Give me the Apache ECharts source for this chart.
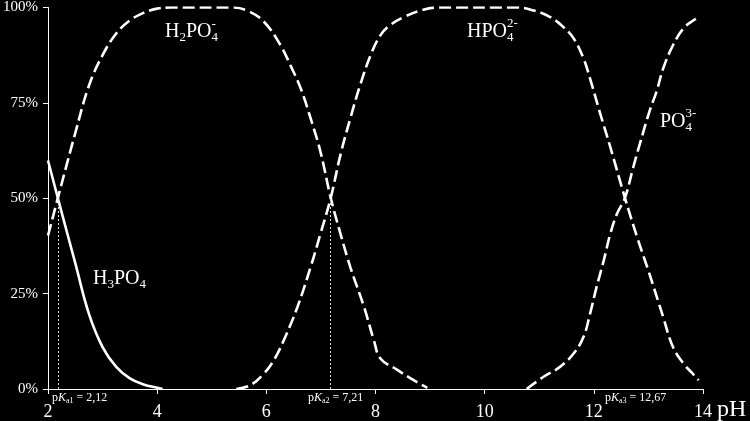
<!DOCTYPE html>
<html>
<head>
<meta charset="utf-8">
<script src="https://cdn.jsdelivr.net/npm/echarts@6/dist/echarts.min.js"></script>
<style>
html,body{margin:0;padding:0;background:#000;}
#c{width:750px;height:421px;}
</style>
</head>
<body>
<div id="c"></div>
<script>
// ---- data ----
const xTicks = [2, 4, 6, 8, 10, 12, 14];
const yTicks = [0, 25, 50, 75, 100];

const pH_H3PO4 = [2.0, 2.25, 2.5, 2.75, 3.0, 3.25, 3.5, 3.75, 4.0, 4.1];
const val_H3PO4 = [59.9, 46.3, 33.0, 19.7, 11.0, 5.8, 2.8, 1.2, 0.3, 0];

const pH_H2PO4 = [2.0, 2.25, 2.5, 2.75, 3.0, 3.25, 3.5, 3.75, 4.0, 4.25, 5.35, 5.65, 5.96, 6.26, 6.44, 6.63, 6.81, 6.99, 7.18, 7.36, 7.54, 7.79, 7.97, 8.09, 8.40, 8.70, 8.95];
const val_H2PO4 = [40.2, 53.8, 67.1, 79.5, 87.5, 93.2, 96.6, 98.6, 99.7, 100, 100, 99.2, 96.2, 90.1, 84.9, 78.8, 71.0, 62.3, 50.1, 40.6, 31.9, 21.5, 12.8, 8.0, 5.0, 2.3, 0.3];

const pH_HPO4 = [5.45, 5.71, 5.96, 6.14, 6.32, 6.57, 6.81, 6.99, 7.18, 7.36, 7.54, 7.72, 7.91, 8.09, 8.27, 8.52, 8.82, 9.13, 10.59, 10.90, 11.20, 11.44, 11.63, 11.81, 11.93, 12.1, 12.3, 12.57, 12.8, 13.0, 13.27, 13.45, 13.64, 13.80, 13.92];
const val_HPO4 = [0, 1.0, 4.1, 7.6, 12.8, 21.5, 31.9, 40.6, 50.1, 61.5, 71.0, 79.7, 87.5, 92.7, 95.4, 97.5, 99.2, 100, 100, 99.2, 97.5, 94.9, 91.9, 86.7, 81.4, 73.0, 63.5, 50.1, 39.5, 31.0, 18.9, 11.0, 6.7, 4.2, 2.3];

const pH_PO4 = [10.77, 11.08, 11.38, 11.63, 11.81, 11.93, 12.05, 12.18, 12.30, 12.42, 12.57, 12.72, 12.84, 13.02, 13.15, 13.27, 13.45, 13.64, 13.82, 13.94];
const val_PO4 = [0, 3.2, 5.8, 9.3, 13.6, 19.7, 26.7, 33.6, 40.6, 45.8, 50.1, 58.0, 64.1, 72.8, 78.0, 84.0, 90.1, 94.5, 96.6, 97.5];

const pKaLines = [2.19, 7.18];           // where the dotted guides are drawn
const pKaLabels = [['a1', '2,12'], ['a2', '7,21'], ['a3', '12,67']];

// ---- build ----
const zip = (xs, ys) => xs.map((x, i) => [x, ys[i]]);
const FONT = '"Liberation Serif", "Times New Roman", serif';
const chart = echarts.init(document.getElementById('c'), null, {renderer: 'canvas'});

const dashed = {color: '#fff', width: 2.6, type: [12, 5]};

const option = {
  backgroundColor: '#000',
  animation: false,
  grid: {left: 47, right: 47, top: 5, bottom: 32, containLabel: false},
  xAxis: {
    type: 'value', min: 2, max: 14, interval: 2,
    axisLine: {lineStyle: {color: '#fff', width: 1}},
    axisTick: {show: true, length: 5, inside: false, lineStyle: {color: '#fff'}},
    axisLabel: {color: '#fff', fontFamily: FONT, fontSize: 18, margin: 14},
    splitLine: {show: false}
  },
  yAxis: {
    type: 'value', min: 0, max: 100, interval: 25,
    axisLine: {show: true, lineStyle: {color: '#fff', width: 1}},
    axisTick: {show: true, length: 5, lineStyle: {color: '#fff'}},
    axisLabel: {color: '#fff', fontFamily: FONT, fontSize: 15, margin: 10, formatter: '{value}%'},
    splitLine: {show: false}
  },
  series: [
    {type: 'line', name: 'H3PO4', data: zip(pH_H3PO4, val_H3PO4), smooth: 0.4, showSymbol: false,
     lineStyle: {color: '#fff', width: 2.6}, z: 3,
     markLine: {
       silent: true, symbol: 'none', label: {show: false},
       lineStyle: {color: '#ddd', width: 1, type: [2, 2]},
       data: pKaLines.map(p => [{coord: [p, 0]}, {coord: [p, 50]}])
     }},
    {type: 'line', name: 'H2PO4', data: zip(pH_H2PO4, val_H2PO4), smooth: 0.4, showSymbol: false, lineStyle: dashed, z: 3},
    {type: 'line', name: 'HPO4', data: zip(pH_HPO4, val_HPO4), smooth: 0.4, showSymbol: false, lineStyle: dashed, z: 3},
    {type: 'line', name: 'PO4', data: zip(pH_PO4, val_PO4), smooth: 0.4, showSymbol: false, lineStyle: dashed, z: 3}
  ]
};
chart.setOption(option);

// ---- text annotations with sub/superscripts ----
const mctx = document.createElement('canvas').getContext('2d');
function fontStr(size, italic) { return (italic ? 'italic ' : '') + size + 'px ' + FONT; }
function tw(t, size, italic) { mctx.font = fontStr(size, italic); return mctx.measureText(t).width; }

function formula(pieces, x, baseline) {
  const els = [];
  let cx = x;
  pieces.forEach(p => {
    const size = p.size;
    els.push({type: 'text', x: cx, y: baseline + (p.dy || 0) - 0.33 * size, z: 10,
      style: {text: p.t, font: fontStr(size, p.italic), fill: '#fff', verticalAlign: 'middle', align: 'left'}});
    let w = tw(p.t, size, p.italic);
    if (p.sup) {
      const ss = p.supSize || size;
      els.push({type: 'text', x: cx, y: baseline + p.supDy - 0.33 * ss, z: 10,
        style: {text: p.sup, font: fontStr(ss), fill: '#fff', verticalAlign: 'middle', align: 'left'}});
      w = Math.max(w, tw(p.sup, ss));
    }
    cx += w;
  });
  return els;
}

const M = 20, S = 13;
let g = [];
g = g.concat(formula([{t: 'H', size: M}, {t: '2', size: S, dy: 4}, {t: 'PO', size: M}, {t: '4', size: S, dy: 4, sup: '-', supSize: S, supDy: -9}], 165, 38));
g = g.concat(formula([{t: 'HPO', size: M}, {t: '4', size: S, dy: 4, sup: '2-', supSize: S, supDy: -10}], 467, 38));
g = g.concat(formula([{t: 'PO', size: M}, {t: '4', size: S, dy: 4, sup: '3-', supSize: S, supDy: -10}], 660, 128));
g = g.concat(formula([{t: 'H', size: M}, {t: '3', size: S, dy: 4}, {t: 'PO', size: M}, {t: '4', size: S, dy: 4}], 93, 285));

const pkX = [52, 308, 605];
pKaLabels.forEach((l, i) => {
  g = g.concat(formula([{t: 'p', size: 12}, {t: 'K', size: 12, italic: true}, {t: l[0], size: 8, dy: 2}, {t: ' = ' + l[1], size: 12}], pkX[i], 402));
});

g.push({type: 'text', x: 717, y: 410, z: 10,
  style: {text: 'pH', font: '24px ' + FONT, fill: '#fff', verticalAlign: 'middle', align: 'left'}});

chart.setOption({graphic: {elements: g}});
</script>
</body>
</html>
